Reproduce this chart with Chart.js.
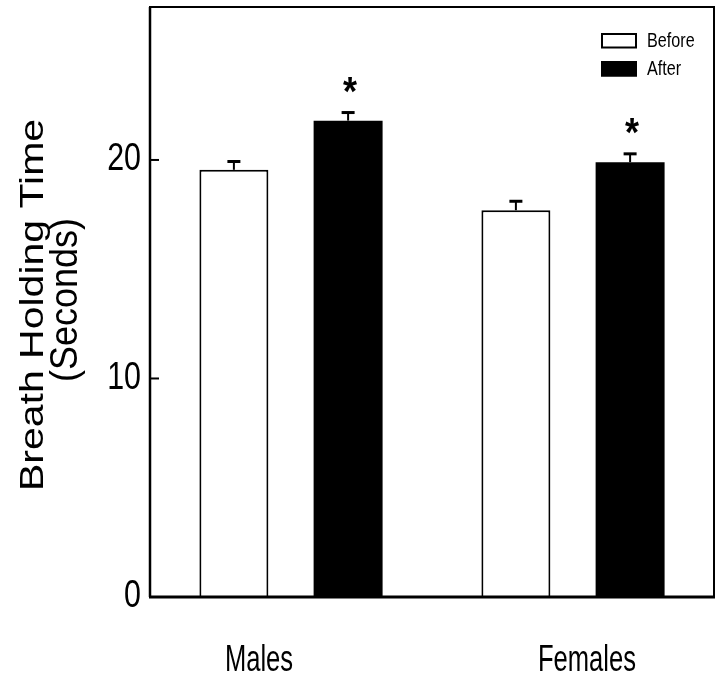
<!DOCTYPE html>
<html lang="en">
<head>
<meta charset="UTF-8">
<title>Breath Holding Time</title>
<script src="https://cdn.jsdelivr.net/npm/chart.js"></script>
<style>
  html, body { margin: 0; padding: 0; background: #fff; }
  canvas { display: block; }
</style>
</head>
<body>
<canvas id="chart" width="718" height="677"></canvas>
<script>
// values
const categories = ['Males', 'Females'];
const beforeMean = [19.55, 17.7];
const beforeSem = [0.38, 0.41];
const afterMean = [21.8, 19.9];
const afterSem = [0.37, 0.38];
const afterStars = ['*', '*'];
const yTickValues = [0, 10, 20];
const yTitle = ['Breath Holding Time', '(Seconds)'];

const FONT = '"Liberation Sans", Arial, sans-serif';

// the original figure is squashed sideways, so text gets an x scale
function text(ctx, str, x, y, font, sx, align, base) {
  ctx.save();
  ctx.translate(x, y);
  ctx.scale(sx, 1);
  ctx.font = font;
  ctx.fillStyle = '#000';
  ctx.textAlign = align;
  ctx.textBaseline = base;
  ctx.fillText(str, 0, 0);
  ctx.restore();
}

function line(ctx, x1, y1, x2, y2, w) {
  ctx.beginPath();
  ctx.lineWidth = w;
  ctx.moveTo(x1, y1);
  ctx.lineTo(x2, y2);
  ctx.stroke();
}

const labelShift = [-32, 14];

const figPlugin = {
  id: 'fig',
  afterDatasetsDraw(chart) {
    const { ctx, chartArea: a, scales: { x, y } } = chart;
    ctx.save();
    ctx.strokeStyle = '#000';

    // error bars + significance marks
    chart.data.datasets.forEach((ds, di) => {
      chart.getDatasetMeta(di).data.forEach((bar, i) => {
        const top = y.getPixelForValue(ds.data[i] + ds.sem[i]);
        line(ctx, bar.x, bar.y, bar.x, top, 2);
        line(ctx, bar.x - 6.5, top, bar.x + 6.5, top, 3);
        if (ds.stars && ds.stars[i]) {
          text(ctx, ds.stars[i], bar.x + 2, top - 30 + 22, 'bold 40px ' + FONT, 0.9, 'center', 'alphabetic');
        }
      });
    });

    // frame
    ctx.lineWidth = 2;
    ctx.strokeRect(a.left, a.top, a.right - a.left, a.bottom - a.top);
    line(ctx, a.left - 1, a.bottom, a.right + 1, a.bottom, 3);
    line(ctx, a.left, a.top, a.left, a.bottom, 2.5);

    // y ticks (inward) and labels
    y.ticks.forEach(t => {
      const py = y.getPixelForValue(t.value);
      if (t.value > 0) line(ctx, a.left, py, a.left + 9, py, 2);
      text(ctx, String(t.value), a.left - 9, py, '38px ' + FONT, 0.8, 'right', 'middle');
    });

    // category labels
    x.getLabels().forEach((lab, i) => {
      text(ctx, lab, x.getPixelForValue(i) + labelShift[i], 671, '36px ' + FONT, 0.71, 'center', 'alphabetic');
    });

    // y axis title, two lines
    const cy = (a.top + a.bottom) / 2;
    ctx.save();
    ctx.translate(43, cy + 3);
    ctx.rotate(-Math.PI / 2);
    ctx.scale(1, 0.8);
    ctx.font = '41px ' + FONT;
    ctx.fillStyle = '#000';
    ctx.textAlign = 'center';
    ctx.textBaseline = 'alphabetic';
    ctx.fillText(yTitle[0], 0, 0);
    ctx.restore();
    ctx.save();
    ctx.translate(77, cy - 2);
    ctx.rotate(-Math.PI / 2);
    ctx.scale(1, 1.1);
    ctx.font = '36px ' + FONT;
    ctx.fillStyle = '#000';
    ctx.textAlign = 'center';
    ctx.textBaseline = 'alphabetic';
    ctx.fillText(yTitle[1], 0, 0);
    ctx.restore();

    // legend, top right inside the plot
    chart.data.datasets.forEach((ds, di) => {
      const bx = a.right - 113, by = a.top + 26 + di * 28;
      ctx.fillStyle = ds.backgroundColor;
      ctx.fillRect(bx, by, 36, 15.5);
      ctx.lineWidth = 2;
      ctx.strokeRect(bx + 1, by + 1, 34, 13.5);
      text(ctx, ds.label, bx + 46, by + 8, '21px ' + FONT, 0.77, 'left', 'middle');
    });

    ctx.restore();
  }
};

new Chart(document.getElementById('chart'), {
  type: 'bar',
  data: {
    labels: categories,
    datasets: [
      {
        label: 'Before',
        data: beforeMean,
        sem: beforeSem,
        backgroundColor: '#ffffff',
        borderColor: '#000000',
        borderWidth: 2,
        categoryPercentage: 0.81,
        barPercentage: 0.604
      },
      {
        label: 'After',
        data: afterMean,
        sem: afterSem,
        stars: afterStars,
        backgroundColor: '#000000',
        borderColor: '#000000',
        borderWidth: 0,
        categoryPercentage: 0.81,
        barPercentage: 0.604
      }
    ]
  },
  options: {
    responsive: false,
    devicePixelRatio: 1,
    animation: false,
    layout: { padding: { left: 150, top: 7, right: 4, bottom: 80 } },
    plugins: { legend: { display: false }, tooltip: { enabled: false } },
    scales: {
      x: { display: false },
      y: {
        display: false,
        min: 0,
        max: 27,
        afterBuildTicks: s => { s.ticks = yTickValues.map(v => ({ value: v })); }
      }
    }
  },
  plugins: [figPlugin]
});
</script>
</body>
</html>
